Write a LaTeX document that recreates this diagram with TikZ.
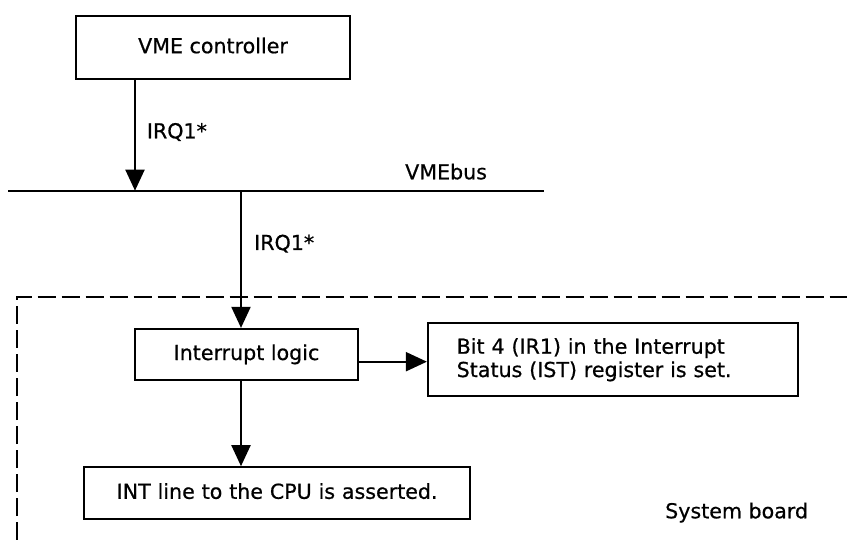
\documentclass[tikz,border=0pt]{standalone}
\usepackage{fontspec}
\setmainfont[FakeBold=0.6]{DejaVu Sans}
\usetikzlibrary{arrows.meta}

\tikzset{
  lbl/.style={font=\fontsize{20.6}{23.3}\selectfont, inner sep=0pt},
  box/.style={lbl, draw, line width=2.2pt, text height=15.5pt, text depth=4.5pt},
  arr/.style={line width=2pt, -{Triangle[length=21pt,width=19pt]}},
  wire/.style={line width=2.3pt},
  boardedge/.style={line width=2pt, dash pattern=on 18pt off 6pt}
}

\begin{document}
\begin{tikzpicture}[x=1pt,y=-1pt]
\useasboundingbox (0,0) rectangle (847,540);

% controller on the bus
\node[box, minimum width=274pt, minimum height=63.3pt] (vme) at (213,47.7) {VME controller};

% the VMEbus
\coordinate (busL) at (8.3,190.7);
\coordinate (busR) at (544,190.7);
\coordinate (tap1) at (135,190.7);
\coordinate (tap2) at (241,190.7);
\draw[wire] (busL) -- (busR);
\node[lbl, anchor=base west] (busname) at (405,179.3) {VMEbus};

% system board outline
\coordinate (sbBL) at (16.7,540);
\coordinate (sbTL) at (16.7,297);
\coordinate (sbTR) at (847,297);
\draw[boardedge] (sbBL) -- (sbTL) -- (sbTR);
\node[lbl, anchor=base west] (sbname) at (665,518.3) {System board};

% blocks on the system board
\node[box, minimum width=223pt, minimum height=51pt] (intlogic) at (246.5,354.5) {Interrupt logic};
\node[lbl, draw, line width=2.2pt, minimum height=72.7pt, inner xsep=28.7pt,
      text width=312.6pt, align=left] (ist) at (613,359.7)
      {Bit 4 (IR1) in the Interrupt\\Status (IST) register is set.};
\node[box, minimum height=52pt, inner xsep=32.7pt, text width=320.6pt, align=left]
      (intline) at (277,493.3) {\mbox{INT line to the CPU is asserted.}};

% signal paths
\draw[arr] (tap1 |- vme.south) -- (tap1);
\node[lbl, anchor=base west] (irqa) at (146.7,138.3) {IRQ1*};
\draw[arr] (tap2) -- (tap2 |- intlogic.north);
\node[lbl, anchor=base west] (irqb) at (254,250) {IRQ1*};
\draw[arr] (tap2 |- intlogic.south) -- (tap2 |- intline.north);
\path ([yshift=-7.2pt]intlogic.east) coordinate (ilout);
\draw[arr] (ilout) -- (ilout -| ist.west);
\end{tikzpicture}
\end{document}
